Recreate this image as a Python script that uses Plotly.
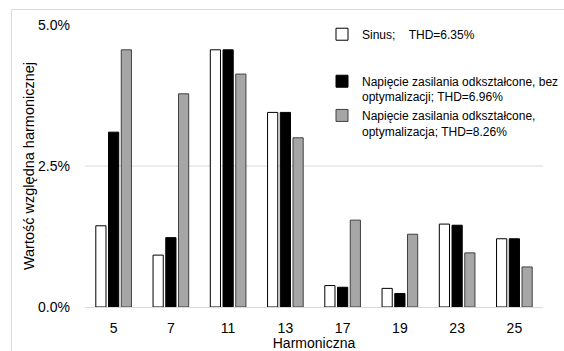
import plotly.graph_objects as go

harmonics = ["5", "7", "11", "13", "17", "19", "23", "25"]
sinus = [1.44, 0.92, 4.56, 3.45, 0.38, 0.33, 1.47, 1.21]
bez_opt = [3.10, 1.23, 4.56, 3.45, 0.35, 0.24, 1.45, 1.21]
opt = [4.56, 3.78, 4.13, 3.00, 1.54, 1.29, 0.96, 0.71]
ytick_vals = [0, 2.5, 5.0]
ytick_text = ["0.0%", "2.5%", "5.0%"]

names = [
    "Sinus;\u00a0\u00a0\u00a0\u00a0THD=6.35%",
    "Napięcie zasilania odkształcone, bez<br>optymalizacji; THD=6.96%",
    "Napięcie zasilania odkształcone,<br>optymalizacja; THD=8.26%",
]
fills = ["#ffffff", "#000000", "#a6a6a6"]
lines = ["#000000", "#000000", "#404040"]
groups = ["a", "b", "b"]

FONT = "Liberation Sans"

fig = go.Figure()
for vals, nm, fc, lc, g in zip([sinus, bez_opt, opt], names, fills, lines, groups):
    fig.add_trace(go.Bar(
        x=harmonics, y=vals, name=nm, legendgroup=g,
        marker=dict(color=fc, line=dict(color=lc, width=1)),
    ))

L, R, T, B = 85, 0, 25, 44
W, H = 564, 351
pw, ph = W - L - R, H - T - B

shapes = [dict(type="line", xref="paper", yref="y", x0=0, x1=1,
               y0=ytick_vals[1], y1=ytick_vals[1],
               line=dict(color="#d9d9d9", width=1), layer="below")]
shapes.append(dict(type="rect", xref="paper", yref="paper",
                   x0=(8 - L) / pw, x1=1.05,
                   y0=-0.3, y1=(H - B - 9.5) / ph,
                   line=dict(color="#d9d9d9", width=1), layer="below"))

fig.update_layout(
    width=W, height=H,
    margin=dict(l=L, r=R, t=T, b=B),
    paper_bgcolor="white", plot_bgcolor="white",
    font=dict(family=FONT, color="#000000", size=14),
    barmode="group", bargap=0.333, bargroupgap=0.2,
    showlegend=True,
    legend=dict(
        x=(333 - L) / pw, y=1.018, xanchor="left", yanchor="top",
        bgcolor="rgba(255,255,255,1)",
        font=dict(family=FONT, size=12, color="#000000"),
        valign="top", tracegroupgap=28, traceorder="grouped",
        itemwidth=30,
    ),
    shapes=shapes,
    xaxis=dict(
        type="category", showgrid=False, showline=True,
        linecolor="#d9d9d9", linewidth=1, ticks="",
        tickfont=dict(size=14), ticklabelstandoff=8, automargin=False,
        title=dict(text="Harmoniczna", font=dict(size=14), standoff=9),
        fixedrange=True,
    ),
    yaxis=dict(
        range=[0, 5.0], tickvals=ytick_vals, ticktext=ytick_text,
        showgrid=False, zeroline=False, showline=False, ticks="",
        tickfont=dict(size=14), ticklabelstandoff=14, automargin=False,
        title=dict(text="Wartość względna harmonicznej", font=dict(size=14.5), standoff=0),
        fixedrange=True,
    ),
)

fig.write_html(
    "out.html",
    config={"displayModeBar": False},
    post_script="document.body.style.margin='0';document.body.style.overflow='hidden';",
)
